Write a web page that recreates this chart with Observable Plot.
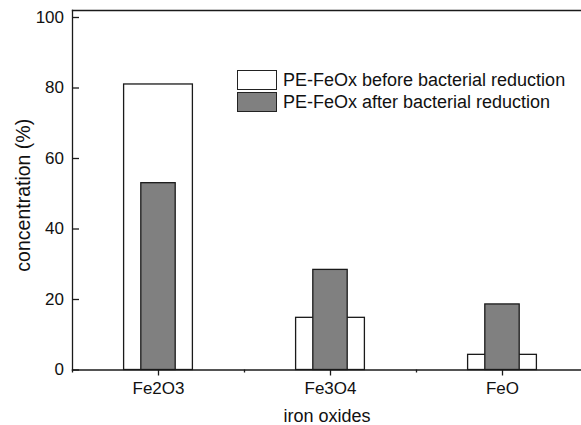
<!DOCTYPE html>
<html><head><meta charset="utf-8">
<script src="https://cdn.jsdelivr.net/npm/d3@7"></script>
<script src="https://cdn.jsdelivr.net/npm/@observablehq/plot@0.6"></script>
<style>
body{margin:0;background:#fff;overflow:hidden}
#wrap{position:relative;width:581px;height:425px}
.legend{position:absolute;left:237px;top:69px;font:18px "Liberation Sans",Arial,sans-serif;color:#111}
.item{display:flex;align-items:center;height:22px;white-space:nowrap}
.sw{width:40px;height:20px;box-sizing:border-box;border:1.3px solid #222;margin-right:6px}
</style></head><body><div id="wrap"></div>
<script>
const categories = ["Fe2O3", "Fe3O4", "FeO"];
const beforeValues = [81, 14.8, 4.3];
const afterValues = [53, 28.4, 18.6];
const seriesNames = ["PE-FeOx before bacterial reduction", "PE-FeOx after bacterial reduction"];
const seriesColors = ["#ffffff", "#808080"];
const yTicks = [0, 20, 40, 60, 80, 100];
const xLabel = "iron oxides";
const yLabel = "concentration (%)";

const rows = categories.map((c, i) => ({c, pos: i + 1, before: beforeValues[i], after: afterValues[i]}));
const minorTicks = d3.range(categories.length + 1).map(i => i + 0.5);

const plot = Plot.plot({
  width: 581, height: 425,
  marginLeft: 72, marginRight: 0, marginTop: 10, marginBottom: 55.5,
  style: {fontFamily: '"Liberation Sans", Arial, sans-serif', color: "#111", background: "#fff", overflow: "hidden"},
  x: {domain: [0.5, categories.length + 0.5], range: [72, 588]},
  y: {domain: [0, 100], range: [369.5, 17]},
  marks: [
    Plot.rect(rows, {x1: d => d.pos - 0.2, x2: d => d.pos + 0.2, y1: () => 0, y2: "before", fill: seriesColors[0], stroke: "#1a1a1a", strokeWidth: 1.3}),
    Plot.rect(rows, {x1: d => d.pos - 0.1, x2: d => d.pos + 0.1, y1: () => 0, y2: "after", fill: seriesColors[1], stroke: "#1a1a1a", strokeWidth: 1.3}),
    Plot.frame({anchor: "top", stroke: "#1a1a1a", strokeWidth: 1.3}),
    Plot.frame({anchor: "left", stroke: "#1a1a1a", strokeWidth: 1.3}),
    Plot.frame({anchor: "bottom", stroke: "#1a1a1a", strokeWidth: 1.3}),
    Plot.axisY({ticks: yTicks, tickSize: -7, tickPadding: 15.5, fontSize: 17, label: null, stroke: "#1a1a1a", strokeWidth: 1.3}),
    Plot.axisX({ticks: rows.map(d => d.pos), tickFormat: d => categories[d - 1], tickSize: 6, tickPadding: 6, fontSize: 17, label: null, stroke: "#1a1a1a", strokeWidth: 1.3}),
    Plot.axisX({ticks: minorTicks, tickSize: 3, tickFormat: () => "", label: null, stroke: "#1a1a1a", strokeWidth: 1.3}),
    Plot.text([yLabel], {text: d => d, frameAnchor: "left", textAnchor: "middle", lineAnchor: "middle", rotate: -90, dx: -49, dy: 5, fontSize: 19.5, fill: "#111"}),
    Plot.text([xLabel], {text: d => d, frameAnchor: "bottom", textAnchor: "middle", lineAnchor: "middle", dy: 46, fontSize: 18, fill: "#111"})
  ]
});

const wrap = document.getElementById("wrap");
wrap.appendChild(plot);
const legend = document.createElement("div");
legend.className = "legend";
seriesNames.forEach((name, i) => {
  const item = document.createElement("div");
  item.className = "item";
  const sw = document.createElement("span");
  sw.className = "sw";
  sw.style.background = seriesColors[i];
  const label = document.createElement("span");
  label.textContent = name;
  item.appendChild(sw);
  item.appendChild(label);
  legend.appendChild(item);
});
wrap.appendChild(legend);
</script>
</body></html>
